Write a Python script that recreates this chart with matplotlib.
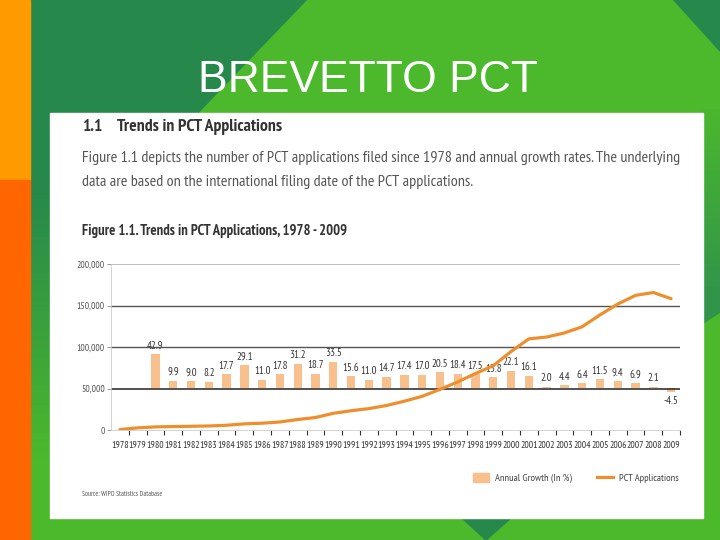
import matplotlib
matplotlib.use("Agg")
import matplotlib.pyplot as plt
import numpy as np
from matplotlib import font_manager
from matplotlib.colors import to_rgb
from matplotlib.patches import Polygon, Rectangle, Patch
from matplotlib.lines import Line2D

## donnees
years = list(range(1978, 2010))
pct_apps = [500, 2600, 3750, 4120, 4490, 4860, 5720, 7390, 8200, 9660,
            12670, 15040, 20080, 23220, 25770, 29560, 34700, 40600, 48930, 57930,
            68070, 77460, 94580, 109810, 112000, 116930, 124410, 138720, 151760, 162230,
            165640, 158190]
growth_years = list(range(1980, 2010))
growth = [42.9, 9.9, 9.0, 8.2, 17.7, 29.1, 11.0, 17.8, 31.2, 18.7,
          33.5, 15.6, 11.0, 14.7, 17.4, 17.0, 20.5, 18.4, 17.5, 13.8,
          22.1, 16.1, 2.0, 4.4, 6.4, 11.5, 9.4, 6.9, 2.1, -4.5]
y_ticks = [0, 50000, 100000, 150000, 200000]
y_labels = ["0", "50,000", "100,000", "150,000", "200,000"]

# police etroite si dispo
avail = {f.name for f in font_manager.fontManager.ttflist}
choix = ['PT Sans Narrow', 'Fira Sans Condensed', 'Cabin Condensed', 'Encode Sans Condensed',
         'Roboto Condensed', 'Archivo Narrow', 'Liberation Sans Narrow', 'Asap Condensed',
         'IBM Plex Sans Condensed', 'Barlow Semi Condensed', 'Open Sans Condensed']
narrow_name = next((c for c in choix if c in avail), 'Liberation Sans')
narrow = [narrow_name, 'DejaVu Sans']

DARK_GREEN = '#26894b'
LIGHT_GREEN = '#4cb92c'
BAR_COL = '#f8c08c'
LINE_COL = '#ee8f2f'

def bandes(ax, x0, x1, y0, y1, c0, c1, n=30, z=2):
    """degrade vertical fait de bandes horizontales de c0 (en y0) a c1 (en y1)"""
    a, b = np.array(to_rgb(c0)), np.array(to_rgb(c1))
    h = (y1 - y0) / n
    for i in range(n):
        t = i / (n - 1)
        ax.add_patch(Rectangle((x0, y0 + i*h), x1 - x0, h + 0.5, color=a*(1-t) + b*t,
                               lw=0, zorder=z))

fig = plt.figure(figsize=(7.2, 5.4), dpi=100)

## fond de la diapo (coordonnees en pixels)
bg = fig.add_axes([0, 0, 1, 1])
bg.add_patch(Rectangle((0, 0), 720, 540, color=DARK_GREEN, zorder=0))
bg.add_patch(Polygon([(308, 0), (672, 0), (720, 53), (720, 540), (30, 540), (30, 290)],
                     color=LIGHT_GREEN, zorder=1))
bg.add_patch(Rectangle((30, 0), 20, 190, color=DARK_GREEN, zorder=2))
bandes(bg, 30, 50, 190, 470, DARK_GREEN, LIGHT_GREEN)
bandes(bg, 700, 720, 95, 300, LIGHT_GREEN, '#30944a')
bg.add_patch(Polygon([(700, 300), (720, 300), (720, 313), (700, 326)], color='#30944a',
                     lw=0, zorder=2))
bg.add_patch(Polygon([(462, 518), (511, 518), (486, 540)], color=DARK_GREEN, zorder=2))
bg.add_patch(Rectangle((0, 0), 30, 180, color='#ff9a00', zorder=3))
bg.add_patch(Rectangle((0, 180), 30, 360, color='#ff6600', zorder=3))
bg.add_patch(Rectangle((50, 113), 653, 405, color='white', zorder=4))
bg.set_xlim(0, 720)
bg.set_ylim(540, 0)
bg.axis('off')

fig.text(368/720, 1-80/540, "BREVETTO PCT", color='white', fontsize=32,
         family='Liberation Sans', ha='center', va='center')

## textes du document
fig.text(82/720, 1-127/540, "1.1", fontsize=12.5, weight='bold', color='#333333',
         family=narrow, va='center')
fig.text(117/720, 1-127/540, "Trends in PCT Applications", fontsize=12.7, weight='bold',
         color='#333333', family=narrow, va='center')
fig.text(82/720, 1-158/540, "Figure 1.1 depicts the number of PCT applications filed since 1978 "
         "and annual growth rates. The underlying", fontsize=11.6, color='#555555',
         family=narrow, va='center')
fig.text(82/720, 1-182/540, "data are based on the international filing date of the PCT applications.",
         fontsize=11.6, color='#555555', family=narrow, va='center')
fig.text(82/720, 1-231/540, "Figure 1.1. Trends in PCT Applications, 1978 - 2009", fontsize=10.5,
         weight='bold', color='#333333', family=narrow, va='center')
fig.text(82/720, 1-495/540, "Source: WIPO Statistics Database", fontsize=5, color='#555555',
         family=narrow, va='center')

## graphique
ax = fig.add_axes([111/720, 1-430/540, 569/720, 166/540])
ax2 = ax.twinx()
growth_zero = 50000
unit = 964  # valeur d'axe pour 1 %
ax2.set_ylim((0-growth_zero)/unit, (200000-growth_zero)/unit)
bars = ax2.bar(growth_years, growth, width=0.47, color=BAR_COL, zorder=2)
ax2.bar_label(bars, labels=[f"{g:.1f}" for g in growth], padding=2.5, fontsize=7.8,
              color='#333333', family=narrow)
ax2.axis('off')

ax.set_zorder(ax2.get_zorder()+1)
ax.patch.set_visible(False)
grid_cols = ['#222222', '#555555', '#555555', '#bbbbbb']
grid_w = [1.1, 1.0, 1.0, 0.7]
for v, c, w in zip(y_ticks[1:], grid_cols, grid_w):
    ax.axhline(v, color=c, lw=w, zorder=1)
ax.plot(years, pct_apps, color=LINE_COL, lw=2.3, zorder=3, solid_capstyle='round')
ax.set_xlim(1977.5, 2009.5)
ax.set_ylim(0, 200000)
ax.set_yticks(y_ticks, y_labels)
ax.set_xticks([y+0.5 for y in years])
ax.set_xticklabels([])
ax.set_xticks(years, minor=True)
ax.set_xticklabels([str(y) for y in years], minor=True)
ax.tick_params(axis='x', which='major', length=3.5, width=0.8, color='#333333', direction='out')
ax.tick_params(axis='x', which='minor', length=0, pad=8, labelsize=7, labelcolor='#333333')
ax.tick_params(axis='y', length=3, width=0.6, color='#888888', labelsize=7,
               labelcolor='#555555', pad=1.5)
for lab in ax.get_xticklabels(minor=True) + ax.get_yticklabels():
    lab.set_family(narrow)
for s in ['top', 'right']:
    ax.spines[s].set_visible(False)
ax.spines['left'].set_color('#cccccc')
ax.spines['bottom'].set_color('#cccccc')
ax.spines['left'].set_linewidth(0.6)
ax.spines['bottom'].set_linewidth(0.6)

handles = [Patch(color=BAR_COL), Line2D([0], [0], color=LINE_COL, lw=2.3)]
leg = fig.legend(handles, ["Annual Growth (In %)", "PCT Applications"], ncol=2,
                 loc='center', bbox_to_anchor=(576/720, 1-478/540), frameon=False,
                 handlelength=1.5, handleheight=0.9, columnspacing=2.4,
                 handletextpad=0.6, prop={'family': narrow, 'size': 7.5})
for t in leg.get_texts():
    t.set_color('#444444')

fig.savefig("out.png", dpi=100)
